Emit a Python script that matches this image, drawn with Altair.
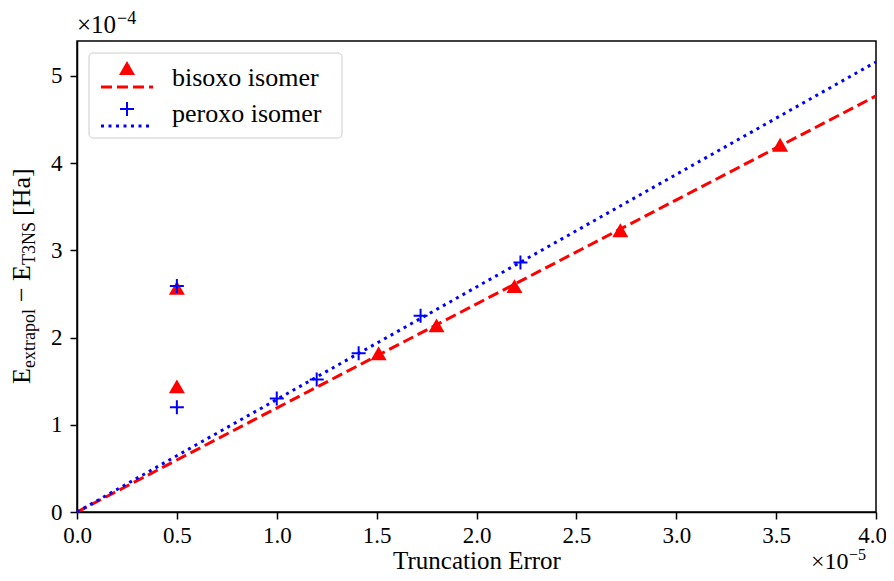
import altair as alt
import pandas as pd

# ---- data (x in units of 1e-5, y in units of 1e-4) ----
bis_x = [0.5, 0.5, 1.51, 1.80, 2.19, 2.72, 3.52]
bis_y = [2.57, 1.44, 1.82, 2.14, 2.59, 3.23, 4.21]
per_x = [0.5, 0.5, 1.0, 1.2, 1.41, 1.72, 2.22]
per_y = [2.59, 1.20, 1.30, 1.52, 1.82, 2.25, 2.86]
fit_x = [0.0, 4.0]
bis_fit = [0.0, 4.77]
per_fit = [0.0, 5.16]

x_ticks = [0.0, 0.5, 1.0, 1.5, 2.0, 2.5, 3.0, 3.5, 4.0]
y_ticks = [0, 1, 2, 3, 4, 5]
legend_labels = ["bisoxo isomer", "peroxo isomer"]
x_title = "Truncation Error"
ytitle_parts = ["E", "extrapol", "−", "E", "T3NS", "[Ha]"]
exp_base = "×10"
exp_y = "−4"
exp_x = "−5"

FONT = "Liberation Serif"
RED = "#ff0000"
BLUE = "#0000ff"
PLUS = "M-1,0L1,0M0,-1L0,1"

W, H = 799, 471

bis = pd.DataFrame({"x": bis_x, "y": bis_y})
per = pd.DataFrame({"x": per_x, "y": per_y})
fit = pd.DataFrame({"x": fit_x, "b": bis_fit, "p": per_fit})
one = pd.DataFrame({"k": [0]})

xs = alt.Scale(domain=[0, 4.0], nice=False, zero=False)
ys = alt.Scale(domain=[0, 5.4], nice=False, zero=False)

xaxis = alt.Axis(values=x_ticks, format=".1f", title=x_title, titleY=56,
                 titleBaseline="alphabetic", titleFontSize=25,
                 titleFontWeight="normal", labelPadding=5, labelFlush=False,
                 labelOffset={"condition": {"test": "datum.value >= 4", "value": -4},
                              "value": 0})
yaxis = alt.Axis(values=y_ticks, format="d", title=None, labelPadding=8, labelFlush=False)

line_b = alt.Chart(fit).mark_line(color=RED, strokeDash=[11, 5], strokeWidth=3).encode(
    x=alt.X("x:Q", scale=xs, axis=xaxis),
    y=alt.Y("b:Q", scale=ys, axis=yaxis),
)
line_p = alt.Chart(fit).mark_line(color=BLUE, strokeDash=[3, 4.5], strokeWidth=3).encode(
    x=alt.X("x:Q", scale=xs),
    y=alt.Y("p:Q", scale=ys),
)
pts_b = alt.Chart(bis).mark_point(shape="triangle-up", filled=True, size=256,
                                  color=RED, opacity=1).encode(
    x=alt.X("x:Q", scale=xs), y=alt.Y("y:Q", scale=ys))
pts_p = alt.Chart(per).mark_point(shape=PLUS, filled=False, size=196, strokeWidth=2,
                                  color=BLUE, opacity=1).encode(
    x=alt.X("x:Q", scale=xs), y=alt.Y("y:Q", scale=ys))

# ---- legend ----
leg_box = alt.Chart(one).mark_rect(fill="white", fillOpacity=0.85, stroke="#cccccc",
                                   strokeWidth=1, cornerRadius=4).encode(
    x=alt.value(12), x2=alt.value(265), y=alt.value(12), y2=alt.value(97))
leg_tri = alt.Chart(one).mark_point(shape="triangle-up", filled=True, size=256,
                                    color=RED, opacity=1).encode(
    x=alt.value(50), y=alt.value(27))
leg_dash = alt.Chart(one).mark_rule(color=RED, strokeDash=[11, 5], strokeWidth=3).encode(
    x=alt.value(24), x2=alt.value(76), y=alt.value(46))
leg_plus = alt.Chart(one).mark_point(shape=PLUS, filled=False, size=196, strokeWidth=2,
                                     color=BLUE, opacity=1).encode(
    x=alt.value(50), y=alt.value(68))
leg_dot = alt.Chart(one).mark_rule(color=BLUE, strokeDash=[3, 4.5], strokeWidth=3).encode(
    x=alt.value(24), x2=alt.value(76), y=alt.value(85))


def txt(s, x, y, size, angle=0, align="left"):
    return alt.Chart(one).mark_text(text=s, font=FONT, fontSize=size, color="black",
                                    align=align, baseline="alphabetic",
                                    angle=angle).encode(x=alt.value(x), y=alt.value(y))


leg_t1 = txt(legend_labels[0], 95, 45, 26)
leg_t2 = txt(legend_labels[1], 95, 81, 26)

# ---- y title built from pieces (rotated) ----
yt_pos = [343, 327, 261, 240, 224, 175]
yt_size = [26, 18, 26, 26, 18, 26]
yt_x = [-47, -42.5, -47, -47, -42.5, -47]
ytitle = [txt(s, xx, yy, sz, angle=270) for s, xx, yy, sz in zip(ytitle_parts, yt_x, yt_pos, yt_size)]

# ---- offset (exponent) labels ----
off_y1 = txt(exp_base, 0, -8, 25)
off_y2 = txt(exp_y, 40, -17, 18)
off_x1 = txt(exp_base, 734, 528, 24)
off_x2 = txt(exp_x, 772, 519, 16)

chart = alt.layer(
    line_b, line_p, pts_b, pts_p,
    leg_box, leg_tri, leg_dash, leg_plus, leg_dot, leg_t1, leg_t2,
    *ytitle, off_y1, off_y2, off_x1, off_x2,
).properties(
    width=W, height=H,
    autosize=alt.AutoSizeParams(type="none"),
    padding={"left": 69, "top": 33, "right": 10, "bottom": 61},
).configure_view(
    stroke="black", strokeWidth=1.5
).configure_axis(
    grid=False, domainColor="black", domainWidth=1.5, tickColor="black",
    tickWidth=1.5, tickSize=7, labelFont=FONT, labelFontSize=23, labelColor="black",
    titleFont=FONT, titleColor="black",
)

chart.save("out.html", embed_options={"renderer": "svg", "actions": False})
